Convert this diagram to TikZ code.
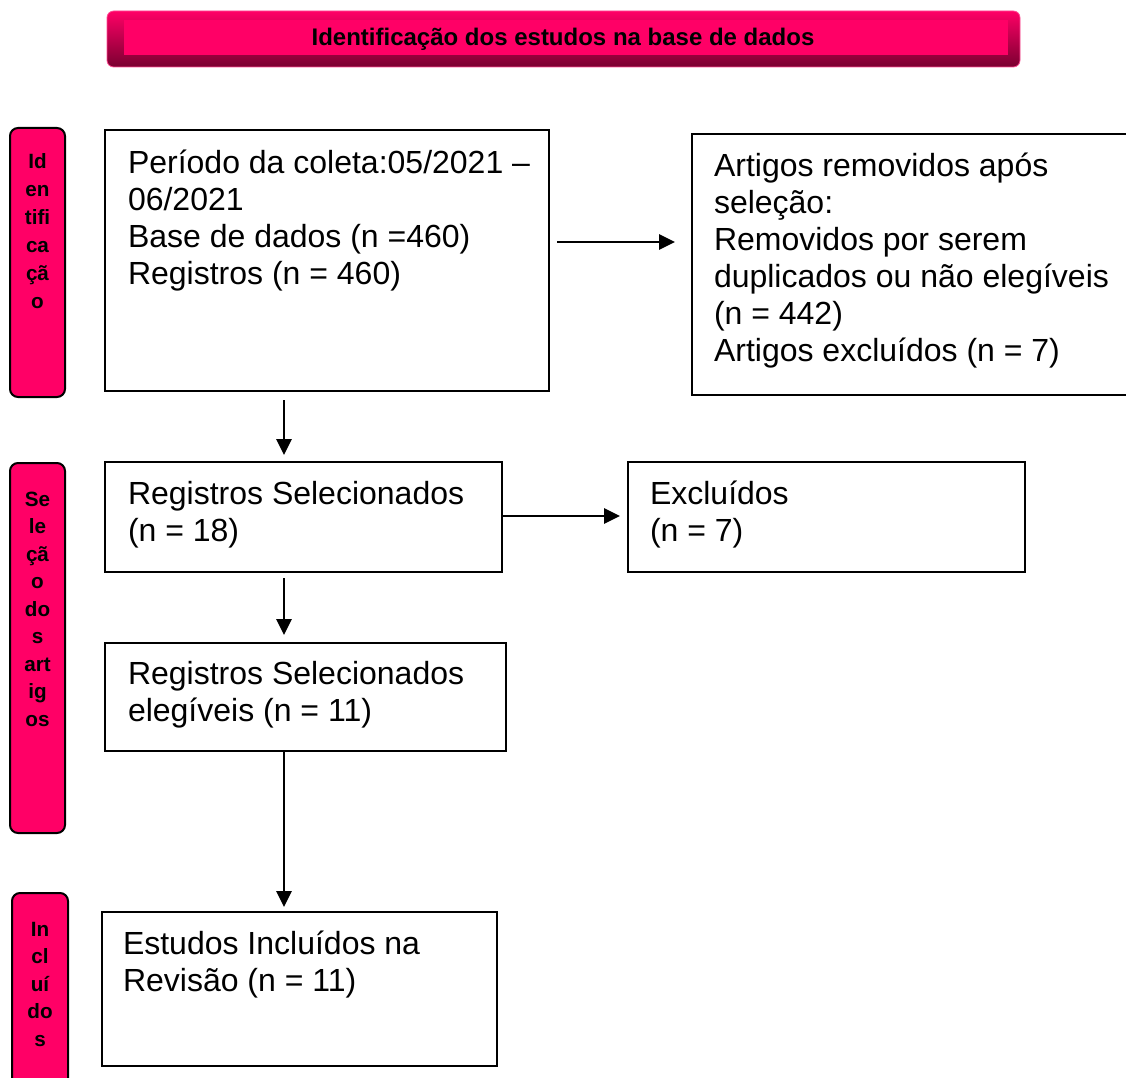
\documentclass[tikz,border=0pt]{standalone}
\usepackage{fontspec}
\setmainfont{Liberation Sans}
\usetikzlibrary{calc,arrows.meta}
\definecolor{hotpink}{HTML}{FF0066}
\definecolor{darkpink}{HTML}{7A0030}
\tikzset{
  box/.style={draw=black, line width=1.5pt, fill=white, rectangle, inner sep=0pt, outer sep=0pt, anchor=north west},
  boxtext/.style={anchor=north west, inner sep=0pt, outer sep=0pt, align=left, font=\fontsize{24}{27.75}\selectfont},
  sidebar/.style={draw=black, line width=1.5pt, fill=hotpink, rounded corners=6pt, rectangle, inner sep=0pt, outer sep=0pt, anchor=north west, minimum width=41.25pt},
  bartext/.style={anchor=north, inner sep=0pt, outer sep=0pt, text width=40pt, align=center, font=\bfseries\fontsize{15.5}{20.6}\selectfont},
  arr/.style={draw=black, line width=1.4pt, -{Triangle[length=12pt,width=11.5pt]}}
}
\begin{document}
\begin{tikzpicture}[x=0.75pt,y=-0.75pt]
\useasboundingbox (0,0) rectangle (1126,1077);

% banner
\path[draw=hotpink!70, line width=0.6pt, rounded corners=5pt, top color=hotpink, middle color=hotpink, bottom color=darkpink] (107,11) rectangle (1020,67);
\path[fill=hotpink] (124,20) rectangle (1008,55);
\node[font=\bfseries\fontsize{18}{20}\selectfont, inner sep=0pt] (title) at (563,39) {Identificação dos estudos na base de dados};

% side bars
\node[sidebar, minimum height=201.75pt] (s1) at (10,128) {};
\node[sidebar, minimum height=277.5pt] (s2) at (10,463) {};
\node[sidebar, minimum height=150pt, minimum width=42pt] (s3) at (12,893) {};
\node[bartext, font=\bfseries\fontsize{15.5}{21}\selectfont] (t1) at (37.5,148.8) {\strut Id\\en\\tifi\\ca\\çã\\o};
\node[bartext] (t2) at (37.5,487.2) {\strut Se\\le\\çã\\o\\do\\s\\art\\ig\\os};
\node[bartext] (t3) at (40,917.2) {\strut In\\cl\\uí\\do\\s};

% boxes
\node[box, minimum width=333pt, minimum height=195.75pt] (b1) at (105,130) {};
\node[box, minimum width=330pt, minimum height=195.75pt] (b2) at (692,134) {};
\node[box, minimum width=297.75pt, minimum height=82.5pt] (b3) at (105,462) {};
\node[box, minimum width=297.75pt, minimum height=82.5pt] (b4) at (628,462) {};
\node[box, minimum width=300.75pt, minimum height=81pt] (b5) at (105,643) {};
\node[box, minimum width=296.25pt, minimum height=115.5pt] (b6) at (102,912) {};

% box texts
\node[boxtext] (x1) at (128,147.6) {\strut Período da coleta:05/2021 –\\06/2021\\Base de dados (n =460)\\Registros (n = 460)};
\node[boxtext] (x2) at (714,150.6) {\strut Artigos removidos após\\seleção:\\Removidos por serem\\duplicados ou não elegíveis\\(n = 442)\\Artigos excluídos (n = 7)};
\node[boxtext] (x3) at (128,478.6) {\strut Registros Selecionados\\(n = 18)};
\node[boxtext] (x4) at (650,478.6) {\strut Excluídos\\(n = 7)};
\node[boxtext] (x5) at (128,658.6) {\strut Registros Selecionados\\elegíveis (n = 11)};
\node[boxtext] (x6) at (123,928.6) {\strut Estudos Incluídos na\\Revisão (n = 11)};

% arrows
\draw[arr] ($(b1.north east)+(8,112)$) -- ($(b2.north west)+(-17,108)$);
\draw[arr] ($(b1.south west)+(179,9)$) -- ($(b3.north west)+(179,-7)$);
\draw[arr] ($(b3.north east)+(1,54)$) -- ($(b4.north west)+(-8,54)$);
\draw[arr] ($(b3.south west)+(179,6)$) -- ($(b5.north west)+(179,-8)$);
\draw[arr] ($(b5.south west)+(179,0)$) -- ($(b6.north west)+(182,-5)$);
\end{tikzpicture}
\end{document}
